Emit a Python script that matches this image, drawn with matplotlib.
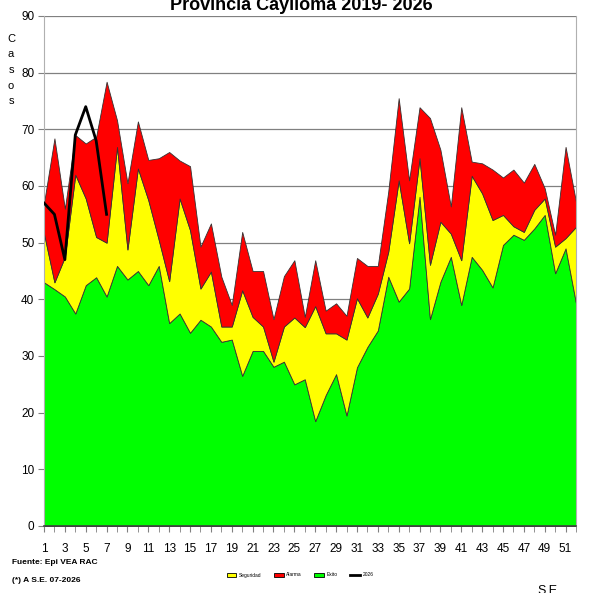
import numpy as np
import matplotlib
matplotlib.use("Agg")
from matplotlib import pyplot as plt
from matplotlib.patches import Patch
from matplotlib.lines import Line2D

plt.rcParams['font.family'] = ['Liberation Sans Narrow', 'Liberation Sans', 'DejaVu Sans']

# epidemiological weeks
weeks = np.arange(1, 53)

# endemic channel limits
exito = [43, 41.8, 40.5, 37.5, 42.5, 43.9, 40.5, 45.9, 43.5, 45, 42.5, 45.9, 35.8, 37.5, 34.1,
         36.4, 35.2, 32.5, 32.9, 26.5, 30.9, 30.9, 28.1, 29, 25, 25.9, 18.5, 23.1, 26.8, 19.5,
         28, 31.6, 34.5, 44, 39.6, 41.9, 58.1, 36.5, 43.1, 47.5, 39, 47.5, 45.2, 42.1, 49.6,
         51.4, 50.5, 52.5, 54.9, 44.6, 49, 39.3]
seguridad = [51.6, 43, 47.5, 62, 57.8, 51, 50, 66.9, 48.8, 63.1, 57.5, 50.5, 43.2, 57.8, 52.2,
             41.9, 44.9, 35.2, 35.2, 41.6, 36.9, 35.2, 29, 35.2, 36.8, 35.1, 38.8, 34, 34, 32.9,
             40.2, 36.8, 41, 48.4, 61, 49.9, 64.9, 46.1, 53.7, 51.6, 46.9, 61.8, 58.7, 54, 54.9,
             52.9, 51.9, 55.8, 57.8, 49.3, 50.8, 52.8]
alarma = [57, 68.4, 56, 69, 67.5, 68.7, 78.4, 71.6, 60.5, 71.4, 64.6, 64.9, 66, 64.5, 63.5,
          49.3, 53.4, 44, 39, 51.9, 45, 45, 36.5, 44.1, 46.9, 36.9, 46.9, 38, 39.3, 37.1,
          47.3, 45.9, 45.9, 59, 75.5, 61, 73.9, 72, 66.4, 56.4, 73.9, 64.3, 64, 62.9, 61.5,
          62.9, 60.6, 63.9, 59.6, 51.4, 66.9, 57.2]

# cases 2026 up to week 7
weeks_2026 = [1, 2, 3, 4, 5, 6, 7]
casos_2026 = [57, 55, 47, 69, 74, 68, 55]

xtick_labels = [str(w) for w in range(1, 52, 2)]

fig = plt.figure(figsize=(5.93, 5.93), dpi=100)
ax = fig.add_axes([44 / 593, 67 / 593, 532 / 593, 510 / 593])

edge = '#333333'
ax.fill_between(weeks, 0, exito, facecolor='#00ff00', edgecolor=edge, linewidth=0.6, zorder=2)
ax.fill_between(weeks, exito, seguridad, facecolor='#ffff00', edgecolor=edge, linewidth=0.6, zorder=2)
ax.fill_between(weeks, seguridad, alarma, facecolor='#ff0000', edgecolor=edge, linewidth=0.6, zorder=2)
ax.plot(weeks_2026, casos_2026, color='black', linewidth=2, zorder=3)

ax.set_xlim(1, 52)
ax.set_ylim(0, 90)
ax.set_yticks(range(0, 91, 10))
ax.set_xticks(range(1, 52, 2))
ax.set_xticklabels(xtick_labels)
ax.set_xticks(weeks, minor=True)
ax.yaxis.grid(True, color='#808080', linewidth=0.9, zorder=0)
ax.set_axisbelow(True)
ax.tick_params(axis='both', which='both', direction='out', length=4, color='#808080',
               labelsize=8.5, pad=3)
ax.tick_params(axis='x', pad=8)

for s in ['left', 'right', 'top']:
    ax.spines[s].set_color('#b0b0b0')
ax.spines['top'].set_visible(False)
ax.spines['bottom'].set_color('#404040')
ax.spines['bottom'].set_linewidth(1.2)
ax.spines['bottom'].set_zorder(4)

fig.text(301 / 593, 1 - 5 / 593, 'Provincia Caylloma 2019- 2026', ha='center', va='center',
         fontsize=13, fontweight='bold')
fig.text(11 / 593, 1 - 70 / 593, 'C\na\ns\no\ns', ha='center', va='center', fontsize=8,
         linespacing=1.7)

fig.text(12 / 593, 1 - 563 / 593, 'Fuente: Epi VEA RAC', ha='left', va='center',
         fontsize=6, fontweight='bold')
fig.text(12 / 593, 1 - 580 / 593, '(*) A S.E. 07-2026', ha='left', va='center',
         fontsize=6, fontweight='bold')
fig.text(547 / 593, 1 - 591 / 593, 'S.E', ha='center', va='center', fontsize=9)

handles = [Patch(facecolor='#ffff00', edgecolor='black', linewidth=0.6, label='Seguridad'),
           Patch(facecolor='#ff0000', edgecolor='black', linewidth=0.6, label='Alarma'),
           Patch(facecolor='#00ff00', edgecolor='black', linewidth=0.6, label='Exito'),
           Line2D([0], [0], color='black', linewidth=2, label='2026')]
fig.legend(handles=handles, loc='center', bbox_to_anchor=(300 / 593, 1 - 575 / 593), ncol=4,
           frameon=False, fontsize=3.5, handlelength=2.0, handleheight=0.9, columnspacing=2.6,
           handletextpad=0.5)

fig.savefig('out.png', dpi=100)
